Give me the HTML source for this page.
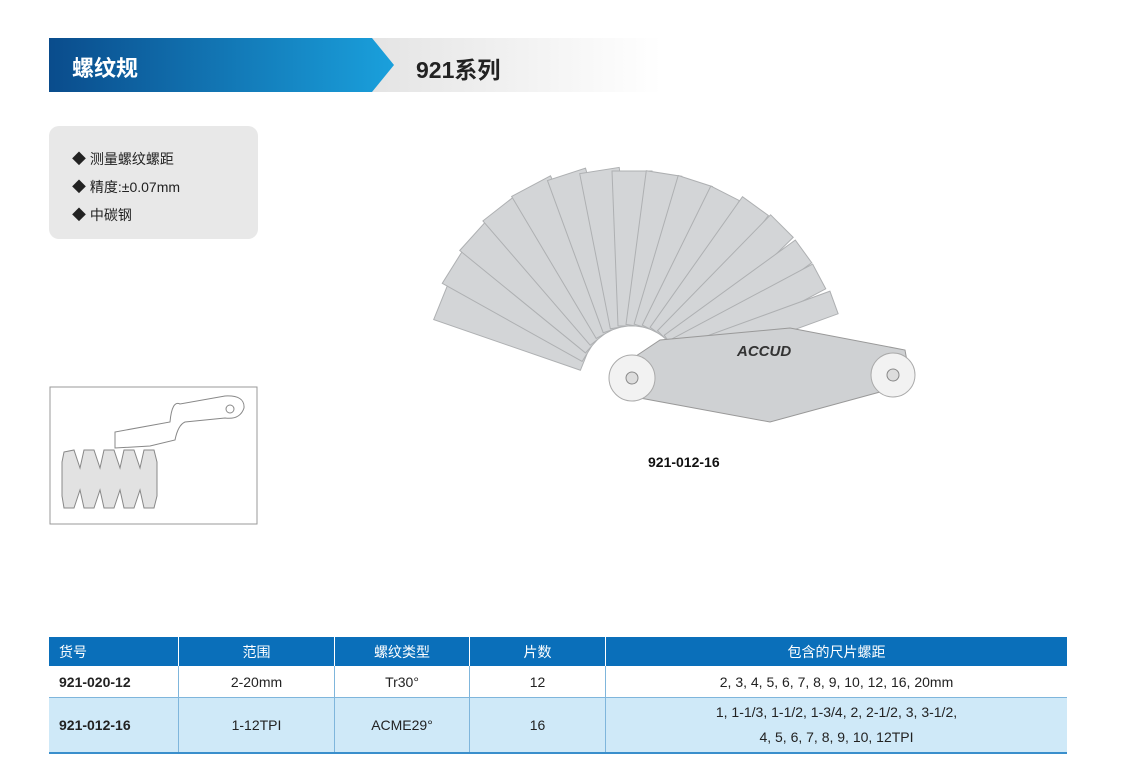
<!DOCTYPE html>
<html><head><meta charset="utf-8"><style>
body{margin:0;width:1130px;height:766px;background:#fff;font-family:"Liberation Sans","Noto Sans CJK SC",sans-serif;position:relative;overflow:hidden}
.abs{position:absolute}
table{position:absolute;left:49px;top:637px;width:1018px;border-collapse:collapse;font-size:14px;color:#222;border-bottom:2px solid #3a8fcc}
td{text-align:center;border-left:1px solid #7fb6dc;padding:0}
td:first-child{border-left:none;text-align:left;padding-left:10px;font-weight:bold}
tr.h td{background:#0a6fba;color:#fff;height:29px;font-weight:normal;border-left:1px solid #fff}
tr.h td:first-child{border-left:none}
tr.r1 td{background:#fff;height:31px;border-bottom:1px solid #7fb6dc}
tr.r2 td{background:#cfe9f8;height:54px;line-height:25px}
</style></head><body>
<svg class="abs" style="left:0;top:0" width="1130" height="766">
<defs>
<linearGradient id="bg" x1="0" x2="1"><stop offset="0" stop-color="#0a4c8c"/><stop offset="1" stop-color="#1aa0dc"/></linearGradient>
<linearGradient id="gg" x1="0" x2="1"><stop offset="0" stop-color="#e4e4e4"/><stop offset="1" stop-color="#fff"/></linearGradient>
</defs>
<rect x="372" y="38" width="290" height="54" fill="url(#gg)"/>
<polygon points="49,38 372,38 394,65 372,92 49,92" fill="url(#bg)"/>
<rect x="49" y="126" width="209" height="113" rx="10" fill="#e8e8e8"/>
<rect x="50" y="387" width="207" height="137" fill="#fff" stroke="#999" stroke-width="1"/>
<path d="M115,448 L115,432 L170,422 Q172,400 180,404 L225,396 Q245,395 244,408 Q240,420 225,418 L185,422 Q178,425 175,440 L150,446 Z" fill="#fff" stroke="#888"/>
<circle cx="230" cy="409" r="4" fill="#fff" stroke="#888"/>
<path d="M64,452 L74,450 L80,468 L84,450 L94,450 L100,468 L104,450 L114,450 L120,468 L124,450 L134,450 L140,468 L144,450 L154,450 L157,462 L157,496 L154,508 L144,508 L140,490 L134,508 L124,508 L120,490 L114,508 L104,508 L100,490 L94,508 L84,508 L80,490 L74,508 L64,508 L62,496 L62,462 Z" fill="#e2e2e2" stroke="#888"/>
<g fill="#d3d5d7" stroke="#aeb0b2" stroke-width="1">
<g transform="translate(632,376)">
<g transform="rotate(-158)"><polygon points="50,-14 205,-22 205,22 50,14"/></g>
<g transform="rotate(-148)"><polygon points="50,-14 210,-22 210,22 50,14"/></g>
<g transform="rotate(-138)"><polygon points="50,-14 212,-22 212,22 50,14"/></g>
<g transform="rotate(-128)"><polygon points="50,-14 214,-22 214,22 50,14"/></g>
<g transform="rotate(-118)"><polygon points="50,-14 215,-22 215,22 50,14"/></g>
<g transform="rotate(-108)"><polygon points="50,-14 212,-20 212,20 50,14"/></g>
<g transform="rotate(-99)"><polygon points="50,-14 208,-20 208,20 50,14"/></g>
<g transform="rotate(-90)"><polygon points="50,-14 205,-20 205,20 50,14"/></g>
<g transform="rotate(-81)"><polygon points="50,-14 205,-18 205,18 50,14"/></g>
<g transform="rotate(-72)"><polygon points="50,-14 205,-18 205,18 50,14"/></g>
<g transform="rotate(-63)"><polygon points="50,-14 205,-16 205,16 50,14"/></g>
<g transform="rotate(-54)"><polygon points="50,-14 210,-16 210,16 50,14"/></g>
<g transform="rotate(-45)"><polygon points="50,-14 212,-16 212,16 50,14"/></g>
<g transform="rotate(-36)"><polygon points="50,-14 212,-14 212,14 50,14"/></g>
<g transform="rotate(-28)"><polygon points="50,-14 212,-14 212,14 50,14"/></g>
<g transform="rotate(-20)"><polygon points="50,-12 215,-12 215,12 50,12"/></g>
</g>
</g>
<polygon points="612,372 660,340 790,328 905,350 910,378 880,392 770,422 640,398" fill="#cfd1d3" stroke="#999"/>
<circle cx="632" cy="378" r="23" fill="#f2f2f2" stroke="#aaa"/>
<circle cx="632" cy="378" r="6" fill="#ddd" stroke="#888"/>
<circle cx="893" cy="375" r="22" fill="#f2f2f2" stroke="#aaa"/>
<circle cx="893" cy="375" r="6" fill="#ddd" stroke="#888"/>
<text x="737" y="356" font-family="Liberation Sans" font-weight="bold" font-style="italic" font-size="15" fill="#333">ACCUD</text>
<text x="648" y="467" font-family="Liberation Sans" font-weight="bold" font-size="14" fill="#111">921-012-16</text>
</svg>
<div class="abs" style="left:72px;top:51px;font-size:22px;font-weight:bold;color:#fff">螺纹规</div>
<div class="abs" style="left:416px;top:51px;font-size:23px;font-weight:bold;color:#222">921系列</div>
<div class="abs" style="left:72px;top:145px;font-size:14px;color:#222;line-height:28px">
<div>◆ 测量螺纹螺距</div><div>◆ 精度:±0.07mm</div><div>◆ 中碳钢</div></div>
<table>
<tr class="h"><td style="width:119px">货号</td><td style="width:155px">范围</td><td style="width:134px">螺纹类型</td><td style="width:135px">片数</td><td>包含的尺片螺距</td></tr>
<tr class="r1"><td>921-020-12</td><td>2-20mm</td><td>Tr30°</td><td>12</td><td>2, 3, 4, 5, 6, 7, 8, 9, 10, 12, 16, 20mm</td></tr>
<tr class="r2"><td>921-012-16</td><td>1-12TPI</td><td>ACME29°</td><td>16</td><td>1, 1-1/3, 1-1/2, 1-3/4, 2, 2-1/2, 3, 3-1/2,<br>4, 5, 6, 7, 8, 9, 10, 12TPI</td></tr>
</table>
</body></html>
